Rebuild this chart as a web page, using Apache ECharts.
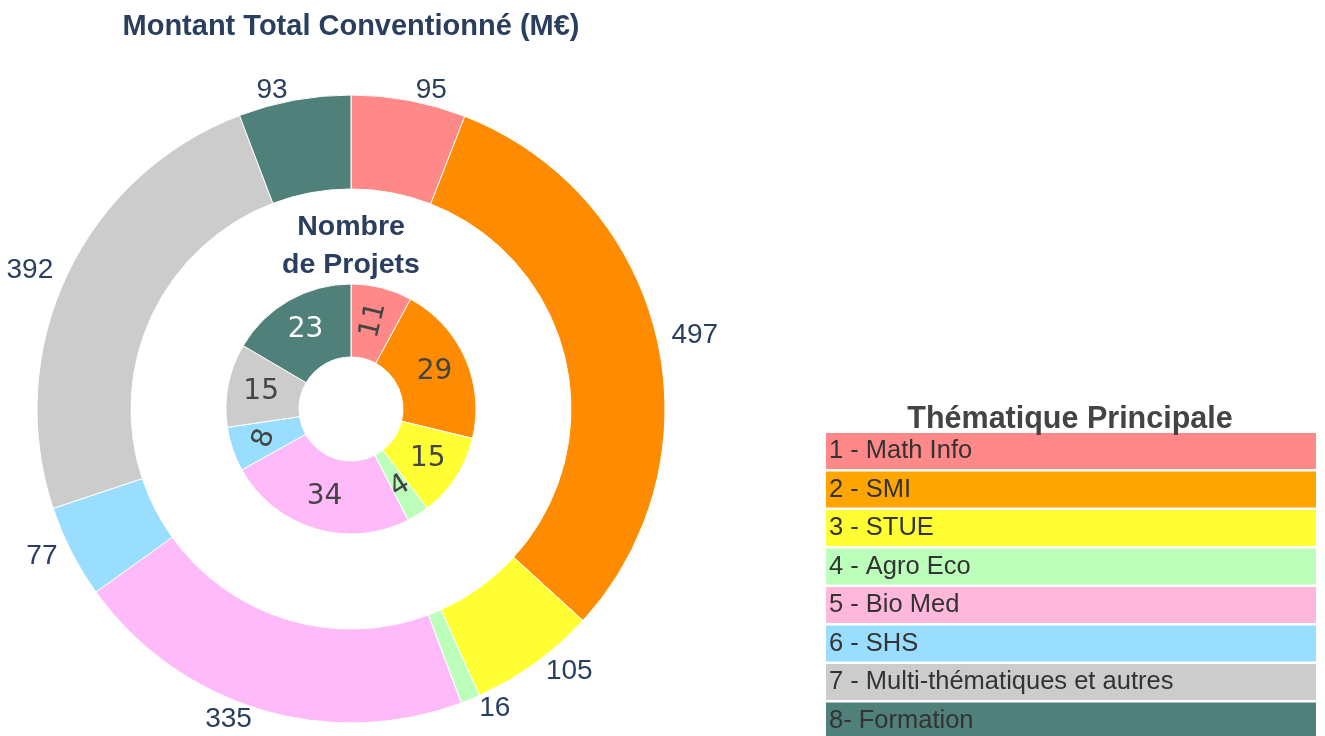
<!DOCTYPE html>
<html>
<head>
<meta charset="utf-8">
<script src="https://cdn.jsdelivr.net/npm/echarts@6/dist/echarts.min.js"></script>
<style>
  html, body { margin: 0; padding: 0; background: #fff; }
  #chart { width: 1325px; height: 736px; }
</style>
</head>
<body>
<div id="chart"></div>
<script>
  const categories = ['1 - Math Info', '2 - SMI', '3 - STUE', '4 - Agro Eco', '5 - Bio Med', '6 - SHS', '7 - Multi-thématiques et autres', '8- Formation']
  const montant = [95, 497, 105, 16, 335, 77, 392, 93]
  const nbProjets = [11, 29, 15, 4, 34, 8, 15, 23]

  const pieColors = ['#ff8888', '#ff8c00', '#ffff33', '#bbffbb', '#ffbbf9', '#99ddff', '#cccccc', '#4f807a']
  const legendColors = ['#ff8888', '#ffa500', '#ffff33', '#bbffbb', '#ffb8dc', '#99ddff', '#cccccc', '#4f807a']
  // small slices get their number turned, like the original
  const innerRotate = [76, 0, 0, 32, 0, 71, 0, 0]

  const chart = echarts.init(document.getElementById('chart'))

  const outerData = categories.map((name, i) => ({
    name: name,
    value: montant[i],
    itemStyle: { color: pieColors[i] }
  }))

  const innerData = categories.map((name, i) => ({
    name: name,
    value: nbProjets[i],
    itemStyle: { color: pieColors[i] },
    label: {
      rotate: innerRotate[i],
      color: i === 7 ? '#ffffff' : '#444444'
    }
  }))

  chart.setOption({
    animation: false,
    title: [
      {
        text: 'Montant Total Conventionné (M€)',
        left: 351,
        top: 10,
        textAlign: 'center',
        padding: 0,
        textStyle: { fontFamily: 'Liberation Sans', fontSize: 29, fontWeight: 'bold', color: '#2a3f5f', lineHeight: 34 }
      },
      {
        text: 'Nombre\nde Projets',
        left: 351,
        top: 208,
        textAlign: 'center',
        padding: 0,
        textStyle: { fontFamily: 'Liberation Sans', fontSize: 28.5, fontWeight: 'bold', color: '#2a3f5f', lineHeight: 38 }
      },
      {
        text: 'Thématique Principale',
        left: 1070,
        top: 403,
        textAlign: 'center',
        padding: 0,
        textStyle: { fontFamily: 'Liberation Sans', fontSize: 30.5, fontWeight: 'bold', color: '#444444', lineHeight: 34 }
      }
    ],
    legend: {
      orient: 'vertical',
      left: 820,
      top: 433,
      height: 340,
      padding: 0,
      itemGap: 2.5,
      itemWidth: 0,
      itemHeight: 0,
      selectedMode: false,
      data: categories.map((name, i) => ({
        name: name,
        textStyle: {
          backgroundColor: legendColors[i],
          width: 487,
          height: 36,
          lineHeight: 36,
          padding: [0, 0, 0, 3]
        }
      })),
      textStyle: { fontFamily: 'Liberation Sans', fontSize: 25.5, color: '#333333' }
    },
    series: [
      {
        name: 'Montant',
        type: 'pie',
        center: [351, 409],
        radius: [220, 314],
        avoidLabelOverlap: false,
        itemStyle: { borderColor: '#ffffff', borderWidth: 1 },
        label: {
          position: 'outside',
          formatter: '{c}',
          fontFamily: 'Liberation Sans',
          fontSize: 28,
          color: '#2a3f5f'
        },
        labelLine: { show: false, length: 10, length2: 0 },
        data: outerData
      },
      {
        name: 'Projets',
        type: 'pie',
        center: [351, 409],
        radius: [52, 125],
        avoidLabelOverlap: false,
        itemStyle: { borderColor: '#ffffff', borderWidth: 1 },
        label: {
          position: 'inside',
          formatter: '{c}',
          fontFamily: 'DejaVu Sans',
          fontSize: 28
        },
        labelLine: { show: false },
        data: innerData
      }
    ]
  })
</script>
</body>
</html>
